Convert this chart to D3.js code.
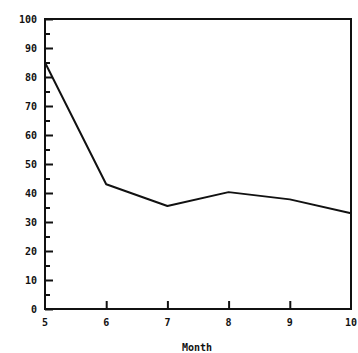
<!DOCTYPE html>
<html><head><meta charset="utf-8">
<script src="https://cdn.jsdelivr.net/npm/d3@7"></script>
<style>body{margin:0;background:#fff}svg{display:block}</style>
</head><body>
<script>
const months = [5, 6, 7, 8, 9, 10];
const values = [85, 43, 35.5, 40.3, 37.8, 33];
const yTicks = [0, 10, 20, 30, 40, 50, 60, 70, 80, 90, 100];
const yMinor = [5, 15, 25, 35, 45, 55, 65, 75, 85, 95];
const xTitle = "Month";

const W = 358, H = 353;
const m = {l: 45, r: 7, t: 19, b: 44};
const svg = d3.select("body").append("svg").attr("width", W).attr("height", H);
const x = d3.scaleLinear().domain([5, 10]).range([m.l, W - m.r]);
const y = d3.scaleLinear().domain([0, 100]).range([H - m.b, m.t]);
const font = "bold 10px 'DejaVu Sans Mono', monospace";

// frame
svg.append("rect").attr("x", x(5)).attr("y", y(100))
  .attr("width", x(10) - x(5)).attr("height", y(0) - y(100))
  .attr("fill", "none").attr("stroke", "#111").attr("stroke-width", 2);

const ya = svg.append("g").attr("transform", `translate(${x(5)},0)`)
  .call(d3.axisRight(y).tickValues(yTicks).tickSize(8).tickFormat(""));
ya.select(".domain").remove();
ya.selectAll("line").attr("stroke", "#111").attr("stroke-width", 2);
const ym = svg.append("g").attr("transform", `translate(${x(5)},0)`)
  .call(d3.axisRight(y).tickValues(yMinor).tickSize(5).tickFormat(""));
ym.select(".domain").remove();
ym.selectAll("line").attr("stroke", "#111").attr("stroke-width", 2);

svg.append("g").selectAll("text").data(yTicks).join("text")
  .attr("x", 37).attr("y", d => y(d)).attr("dy", "0.35em")
  .attr("text-anchor", "end").style("font", font).attr("fill", "#111")
  .text(d => d);

const xa = svg.append("g").attr("transform", `translate(0,${y(0)})`)
  .call(d3.axisTop(x).tickValues(months.slice(1, 5)).tickSize(8).tickFormat(""));
xa.select(".domain").remove();
xa.selectAll("line").attr("stroke", "#111").attr("stroke-width", 2);

svg.append("g").selectAll("text").data(months).join("text")
  .attr("x", d => x(d)).attr("y", y(0) + 13).attr("dy", "0.35em")
  .attr("text-anchor", "middle").style("font", font).attr("fill", "#111")
  .text(d => d);

svg.append("text").attr("x", 197).attr("y", 347).attr("dy", "0.35em")
  .attr("text-anchor", "middle").style("font", font).attr("fill", "#111")
  .text(xTitle);

const line = d3.line().x((d, i) => x(months[i])).y(d => y(d));
svg.append("path").datum(values).attr("d", line)
  .attr("fill", "none").attr("stroke", "#111").attr("stroke-width", 2)
  .attr("stroke-linejoin", "round");
</script>
</body></html>
